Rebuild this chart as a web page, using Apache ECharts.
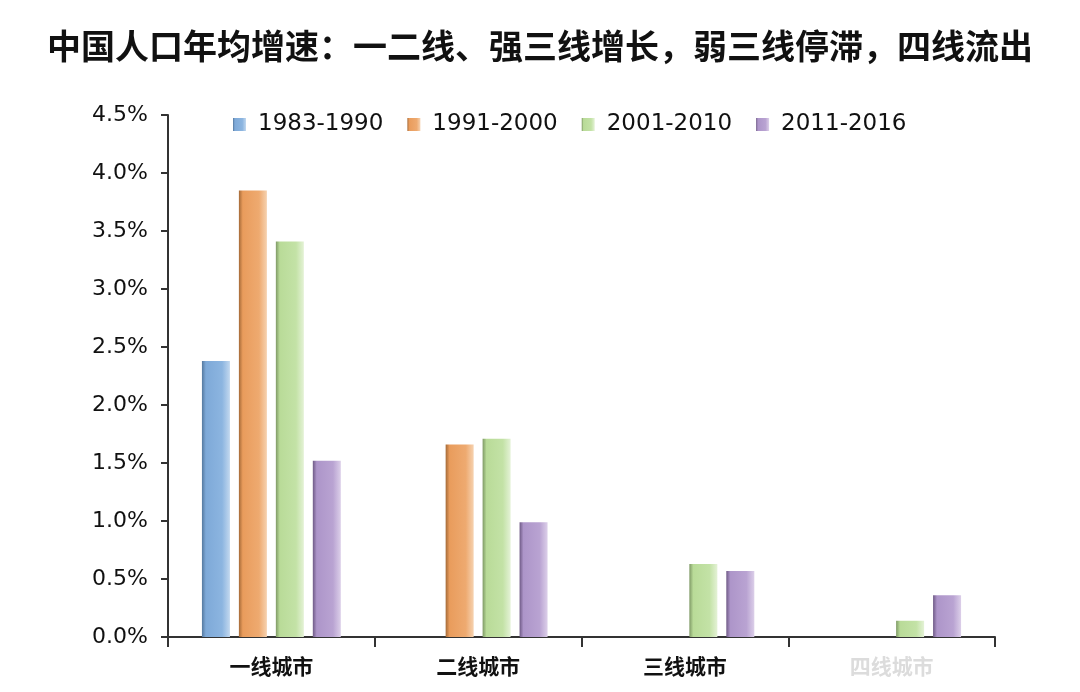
<!DOCTYPE html>
<html>
<head>
<meta charset="utf-8">
<script src="https://cdn.jsdelivr.net/npm/echarts@6/dist/echarts.min.js"></script>
<style>
html,body{margin:0;padding:0;background:#fff;}
#chart{width:1080px;height:692px;}
</style>
</head>
<body>
<div id="chart"></div>
<script>
const titleText = '中国人口年均增速：一二线、强三线增长，弱三线停滞，四线流出';
const categories = ['一线城市', '二线城市', '三线城市', '四线城市'];
const seriesNames = ['1983-1990', '1991-2000', '2001-2010', '2011-2016'];
const s1983_1990 = [2.38, null, null, null];
const s1991_2000 = [3.85, 1.66, null, null];
const s2001_2010 = [3.41, 1.71, 0.63, 0.14];
const s2011_2016 = [1.52, 0.99, 0.57, 0.36];
const yTicks = [0, 0.5, 1.0, 1.5, 2.0, 2.5, 3.0, 3.5, 4.0, 4.5];

const palettes = [
  ['#55799f', '#7ea9d8', '#8cb5e0', '#c2d8ef'],
  ['#a56a38', '#e99c5c', '#eeaa70', '#f6d2b0'],
  ['#7f9a66', '#b9db98', '#c3e2a6', '#e4f2d6'],
  ['#6f5a86', '#ad95c9', '#b9a3d2', '#dccfe9']
];
function grad(p) {
  return new echarts.graphic.LinearGradient(0, 0, 1, 0, [
    {offset: 0, color: p[0]},
    {offset: 0.14, color: p[1]},
    {offset: 0.72, color: p[2]},
    {offset: 1, color: p[3]}
  ]);
}
const dataSets = [s1983_1990, s1991_2000, s2001_2010, s2011_2016];

const chart = echarts.init(document.getElementById('chart'));
chart.setOption({
  backgroundColor: '#fff',
  animation: false,
  title: {
    text: titleText,
    left: 'center',
    top: 24,
    textStyle: {fontFamily: 'Noto Sans CJK SC', fontSize: 34, fontWeight: 'bold', color: '#111'}
  },
  legend: {
    top: 108,
    left: 228,
    itemWidth: 13,
    itemHeight: 13,
    itemGap: 24,
    icon: 'rect',
    textStyle: {fontFamily: 'DejaVu Sans', fontSize: 23, color: '#111', padding: [0, 0, 0, 7]},
    data: seriesNames
  },
  grid: {left: 168, right: 85, top: 115, bottom: 55, containLabel: false},
  xAxis: {
    type: 'category',
    data: categories,
    axisLine: {show: true, lineStyle: {color: '#333', width: 2}},
    axisTick: {show: true, length: 10, lineStyle: {color: '#333', width: 2}},
    axisLabel: {
      margin: 19,
      fontFamily: 'Noto Sans CJK SC',
      fontSize: 21,
      fontWeight: 'bold',
      color: function (v) { return v === '四线城市' ? '#dcdcdc' : '#111'; }
    }
  },
  yAxis: {
    type: 'value',
    min: 0,
    max: 4.5,
    interval: 0.5,
    splitLine: {show: false},
    axisLine: {show: true, lineStyle: {color: '#333', width: 2}},
    axisTick: {show: true, length: 7, lineStyle: {color: '#333', width: 2}},
    axisLabel: {
      margin: 20,
      fontFamily: 'DejaVu Sans',
      fontSize: 22,
      color: '#111',
      formatter: function (v) { return v.toFixed(1) + '%'; }
    }
  },
  series: seriesNames.map(function (name, i) {
    return {
      name: name,
      type: 'bar',
      data: dataSets[i],
      barWidth: 28,
      barGap: '32%',
      itemStyle: {color: grad(palettes[i])}
    };
  })
});
</script>
</body>
</html>
